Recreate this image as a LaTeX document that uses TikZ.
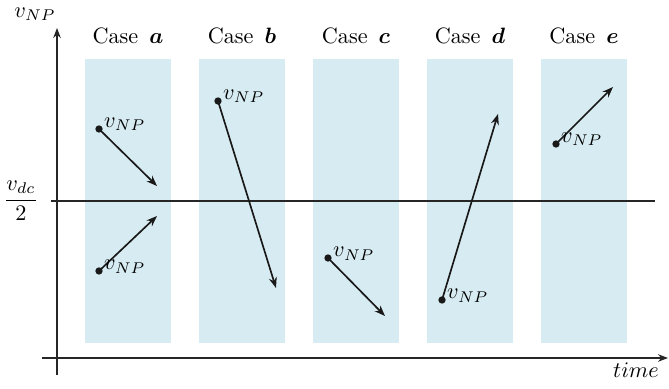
\documentclass[tikz,border=0pt]{standalone}
\usepackage{amsmath}
\usetikzlibrary{positioning, arrows.meta}
\definecolor{bandblue}{RGB}{215,236,242}

\begin{document}
\begin{tikzpicture}[
    x=0.45pt, y=-0.45pt,
    every node/.style = {font=\normalsize},
    band/.style  = {rectangle, fill=bandblue, inner sep=0pt,
                    minimum width=38.7pt, minimum height=127.8pt},
    dot/.style   = {circle, fill=black!90, inner sep=0pt, minimum size=3.3pt},
    vlbl/.style  = {anchor=west, inner sep=0.3pt, yshift=2pt},
    axis/.style  = {-{Stealth[length=4.5pt, width=3.4pt]}, line width=0.6pt, black!85},
    arr/.style   = {-{Stealth[length=4.8pt, width=3.6pt]}, line width=0.75pt, black!90}
]
\useasboundingbox (0,0) rectangle (669,389);

% bands
\node[band] (ba) at (128,201) {};
\node[band] (bb) at (242,201) {};
\node[band] (bc) at (356,201) {};
\node[band] (bd) at (470,201) {};
\node[band] (be) at (584,201) {};

\node[above=3pt of ba] (ca) {Case \,$\boldsymbol{a}$};
\node[above=3pt of bb] (cb) {Case \,$\boldsymbol{b}$};
\node[above=3pt of bc] (cc) {Case \,$\boldsymbol{c}$};
\node[above=3pt of bd] (cd) {Case \,$\boldsymbol{d}$};
\node[above=3pt of be] (ce) {Case \,$\boldsymbol{e}$};

% axes
\coordinate (y0) at (57,375);
\coordinate (y1) at (57,28);
\coordinate (x0) at (42,358);
\coordinate (x1) at (668,358);
\coordinate (m0) at (51,201);
\coordinate (m1) at (655,201);
\draw[axis] (y0) -- (y1);
\draw[axis] (x0) -- (x1);
\draw[line width=0.6pt, black!85] (m0) -- (m1);

\node (ylbl) at (35,14) {$v_{NP}$};
\node (xlbl) at (636,370) {$time$};
\node (half) at (21,201) {$\dfrac{v_{dc}}{2}$};

% trajectories
\node[dot] (a1) at (99,129) {};
\node[dot] (a2) at (99,271) {};
\node[dot] (b1) at (218,101) {};
\node[dot] (c1) at (328,258) {};
\node[dot] (d1) at (442,300) {};
\node[dot] (e1) at (556,144) {};

\coordinate (a1e) at (157,186);
\coordinate (a2e) at (157,216);
\coordinate (b1e) at (276,288);
\coordinate (c1e) at (385,316);
\coordinate (d1e) at (498,114);
\coordinate (e1e) at (613,87);

\draw[arr] (a1.center) -- (a1e);
\draw[arr] (a2.center) -- (a2e);
\draw[arr] (b1.center) -- (b1e);
\draw[arr] (c1.center) -- (c1e);
\draw[arr] (d1.center) -- (d1e);
\draw[arr] (e1.center) -- (e1e);

\node[vlbl] (la1) at (a1.east) {$v_{NP}$};
\node[vlbl] (la2) at (a2.east) {$v_{NP}$};
\node[vlbl] (lb1) at (b1.east) {$v_{NP}$};
\node[vlbl] (lc1) at (c1.east) {$v_{NP}$};
\node[vlbl] (ld1) at (d1.east) {$v_{NP}$};
\node[vlbl] (le1) at (e1.east) {$v_{NP}$};
\end{tikzpicture}
\end{document}
